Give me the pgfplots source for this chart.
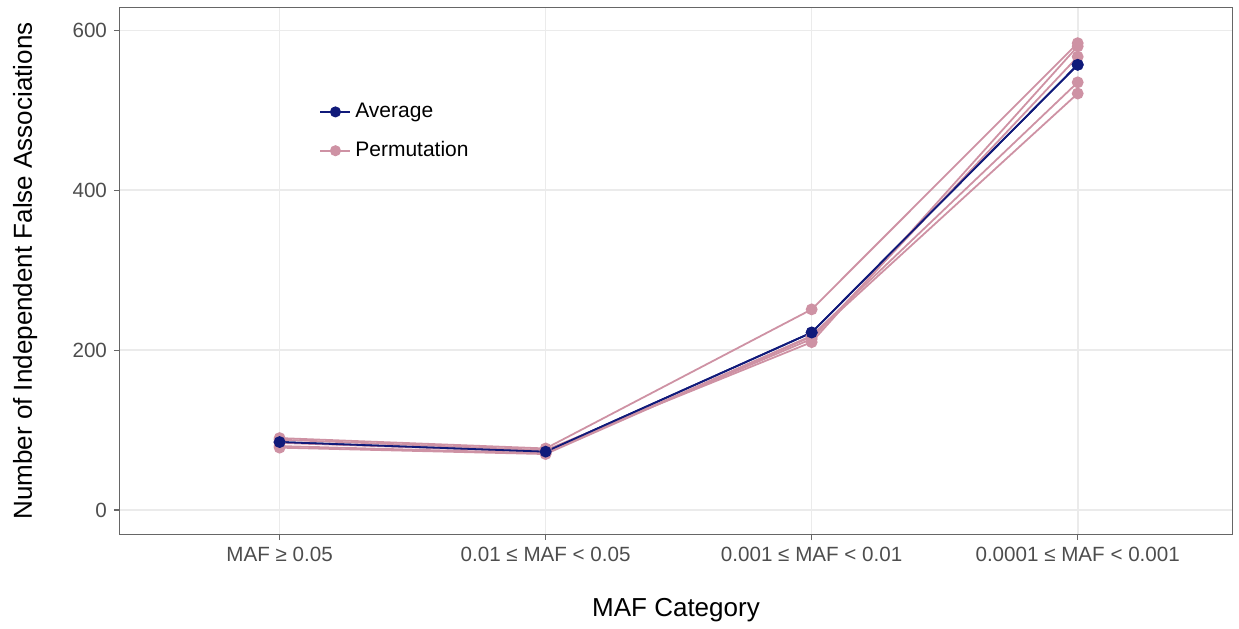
\documentclass[border=0pt]{standalone}
\usepackage{fontspec}
\setmainfont{Liberation Sans}
\usepackage{pgfplots}
\pgfplotsset{compat=1.18}
\definecolor{avgblue}{RGB}{16,26,122}
\definecolor{permpink}{RGB}{206,146,164}
\definecolor{gridgray}{RGB}{235,235,235}
\definecolor{ticktext}{RGB}{77,77,77}

\begin{document}
\begin{tikzpicture}
\begin{axis}[
  scale only axis,
  width=556pt, height=263pt,
  xmin=0.4, xmax=4.58, ymin=-30, ymax=628,
  xtick={1,2,3,4},
  xticklabels={MAF ≥ 0.05, 0.01 ≤ MAF < 0.05, 0.001 ≤ MAF < 0.01, 0.0001 ≤ MAF < 0.001},
  ytick={0,200,400,600},
  /pgf/number format/assume math mode=true,
  tick label style={font=\fontsize{10.3}{12}\selectfont, text=ticktext},
  xlabel={MAF Category}, ylabel={Number of Independent False Associations},
  label style={font=\fontsize{13}{15}\selectfont},
  xlabel style={at={(axis description cs:0.5,-0.1445)}, anchor=center},
  ylabel style={at={(axis description cs:-0.0854,0.5)}, anchor=center},
  grid=major, major grid style={gridgray, line width=0.8pt},
  axis line style={gray!80!black, line width=0.5pt},
  tick align=outside, major tick length=3pt,
  tick style={gray!80!black, line width=0.6pt},
  xtick pos=bottom, ytick pos=left,
  legend style={at={(0.1737,0.835)}, anchor=north west, draw=none, fill=none,
    font=\fontsize{10.5}{12.5}\selectfont, row sep=6.5pt},
  legend cell align=left,
  legend image code/.code={\draw[#1] (0pt,0pt) -- (15pt,0pt); \fill[#1] (7.5pt,0pt) circle (2.3pt);},
]
\addplot[avgblue, line width=0.9pt, mark=*, mark size=2.5pt] coordinates {(1,85) (2,73) (3,222) (4,557)};
\addlegendentry{Average}
\addplot[permpink, line width=0.9pt, mark=*, mark size=2.5pt] coordinates {(1,90) (2,77) (3,251) (4,584)};
\addlegendentry{Permutation}
\addplot[permpink, line width=0.9pt, mark=*, mark size=2.5pt, forget plot] coordinates {(1,88) (2,75) (3,210) (4,580)};
\addplot[permpink, line width=0.9pt, mark=*, mark size=2.5pt, forget plot] coordinates {(1,84) (2,73) (3,214) (4,567)};
\addplot[permpink, line width=0.9pt, mark=*, mark size=2.5pt, forget plot] coordinates {(1,80) (2,71) (3,218) (4,535)};
\addplot[permpink, line width=0.9pt, mark=*, mark size=2.5pt, forget plot] coordinates {(1,78) (2,70) (3,217) (4,521)};
\addplot[avgblue, line width=0.9pt, mark=*, mark size=2.5pt, forget plot] coordinates {(1,85) (2,73) (3,222) (4,557)};
\end{axis}
\pgfresetboundingbox
\path (-60pt,-47pt) rectangle (559.5pt,267pt);
\end{tikzpicture}
\end{document}
